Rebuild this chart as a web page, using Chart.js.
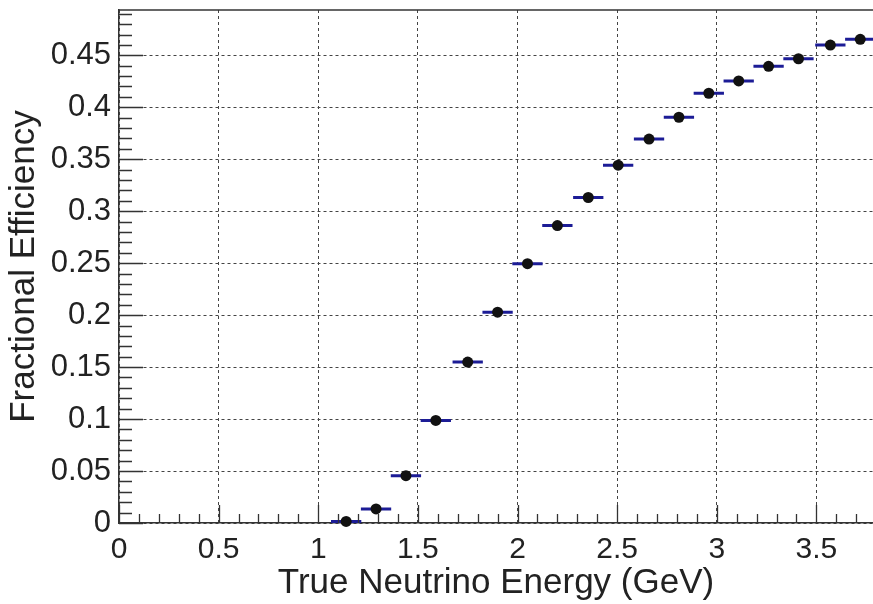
<!DOCTYPE html>
<html>
<head>
<meta charset="utf-8">
<script src="https://cdn.jsdelivr.net/npm/chart.js@4.4.1/dist/chart.umd.min.js"></script>
<style>
  html, body { margin: 0; padding: 0; background: #fff; }
  #wrap { width: 873px; height: 604px; }
</style>
</head>
<body>
<div id="wrap"><canvas id="eff-chart"></canvas></div>
<script>
// bin centres (GeV) and efficiency
const energyCenters = [1.14, 1.29, 1.44, 1.59, 1.75, 1.90, 2.05, 2.20, 2.355, 2.505, 2.66, 2.81, 2.96, 3.11, 3.26, 3.41, 3.57, 3.72];
const efficiency = [0.0015, 0.0135, 0.0455, 0.0987, 0.1548, 0.2029, 0.2495, 0.2862, 0.3132, 0.3443, 0.3694, 0.3904, 0.4135, 0.4253, 0.4394, 0.4467, 0.4599, 0.4654];
const binHalfWidth = 0.076;

const xTickValues = [0, 0.5, 1, 1.5, 2, 2.5, 3, 3.5];
const xTickLabels = ["0", "0.5", "1", "1.5", "2", "2.5", "3", "3.5"];
const yTickValues = [0, 0.05, 0.1, 0.15, 0.2, 0.25, 0.3, 0.35, 0.4, 0.45];
const yTickLabels = ["0", "0.05", "0.1", "0.15", "0.2", "0.25", "0.3", "0.35", "0.4", "0.45"];
const xRange = [0, 3.784];
const yRange = [0, 0.4936];

const xTitle = "True Neutrino Energy (GeV)";
const yTitle = "Fractional Efficiency";

const FONT = "'Liberation Sans', Arial, sans-serif";

const markerPoints = energyCenters.map((x, i) => ({ x: x, y: efficiency[i] }));

// horizontal error bars, one segment per bin, broken by null points
const errorBarPoints = [];
energyCenters.forEach((x, i) => {
  errorBarPoints.push({ x: x - binHalfWidth, y: efficiency[i] });
  errorBarPoints.push({ x: x + binHalfWidth, y: efficiency[i] });
  errorBarPoints.push({ x: x, y: null });
});

// ROOT style ticks drawn inside the frame, plus the top frame line
const rootAxesPlugin = {
  id: "rootAxes",
  afterDatasetsDraw(chart) {
    const { ctx, chartArea: a, scales } = chart;
    const x = scales.x;
    const y = scales.y;
    ctx.save();
    ctx.strokeStyle = "#333";
    ctx.lineWidth = 1.5;
    ctx.beginPath();
    ctx.moveTo(a.left, a.top);
    ctx.lineTo(a.right, a.top);
    ctx.stroke();

    ctx.lineWidth = 1.3;
    ctx.beginPath();
    for (let i = 0; i * 0.1 <= x.max + 1e-9; i++) {
      const px = Math.round(x.getPixelForValue(i * 0.1)) + 0.5;
      const len = i % 5 === 0 ? 18 : 9;
      ctx.moveTo(px, a.bottom);
      ctx.lineTo(px, a.bottom - len);
    }
    for (let i = 0; i * 0.01 <= y.max + 1e-9; i++) {
      const py = Math.round(y.getPixelForValue(i * 0.01)) + 0.5;
      const len = i % 5 === 0 ? 24 : 13;
      ctx.moveTo(a.left, py);
      ctx.lineTo(a.left + len, py);
    }
    ctx.stroke();
    ctx.restore();
  },
};

const ctx = document.getElementById("eff-chart").getContext("2d");

new Chart(ctx, {
  type: "line",
  data: {
    datasets: [
      {
        label: "Efficiency",
        data: markerPoints,
        showLine: false,
        pointRadius: 5.5,
        pointBackgroundColor: "#111",
        pointBorderColor: "#111",
        pointBorderWidth: 0,
        clip: false,
      },
      {
        label: "Bin width",
        data: errorBarPoints,
        showLine: true,
        spanGaps: false,
        borderColor: "#1c1c96",
        borderWidth: 3,
        borderCapStyle: "butt",
        pointRadius: 0,
        tension: 0,
      },
    ],
  },
  plugins: [rootAxesPlugin],
  options: {
    responsive: true,
    maintainAspectRatio: false,
    animation: false,
    events: [],
    layout: {
      autoPadding: false,
      padding: { top: 10, right: 0, bottom: 0, left: 0 },
    },
    plugins: {
      legend: { display: false },
      tooltip: { enabled: false },
    },
    scales: {
      x: {
        type: "linear",
        min: xRange[0],
        max: xRange[1],
        afterBuildTicks: (scale) => {
          scale.ticks = xTickValues.map((v) => ({ value: v }));
        },
        afterFit: (scale) => {
          scale.height = 81;
          scale.paddingLeft = 0;
          scale.paddingRight = 0;
        },
        ticks: {
          autoSkip: false,
          maxRotation: 0,
          padding: 9,
          color: "#222",
          font: { family: FONT, size: 30 },
          callback: (value, index) => xTickLabels[index],
        },
        grid: {
          color: "#444",
          lineWidth: 1,
          drawTicks: false,
        },
        border: {
          display: true,
          color: "#333",
          width: 1.5,
          dash: [3, 3],
        },
        title: {
          display: true,
          text: xTitle,
          color: "#222",
          font: { family: FONT, size: 35 },
          padding: { top: 2, bottom: 0 },
        },
      },
      y: {
        type: "linear",
        min: yRange[0],
        max: yRange[1],
        afterBuildTicks: (scale) => {
          scale.ticks = yTickValues.map((v) => ({ value: v }));
        },
        afterFit: (scale) => {
          scale.width = 119;
          scale.paddingTop = 0;
          scale.paddingBottom = 0;
        },
        ticks: {
          autoSkip: false,
          padding: 8,
          color: "#222",
          font: { family: FONT, size: 31 },
          callback: (value, index) => yTickLabels[index],
        },
        grid: {
          color: "#444",
          lineWidth: 1,
          drawTicks: false,
        },
        border: {
          display: true,
          color: "#333",
          width: 1.5,
          dash: [3, 3],
        },
        title: {
          display: true,
          text: yTitle,
          color: "#222",
          font: { family: FONT, size: 35 },
          padding: { top: 3, bottom: 0 },
        },
      },
    },
  },
});
</script>
</body>
</html>
